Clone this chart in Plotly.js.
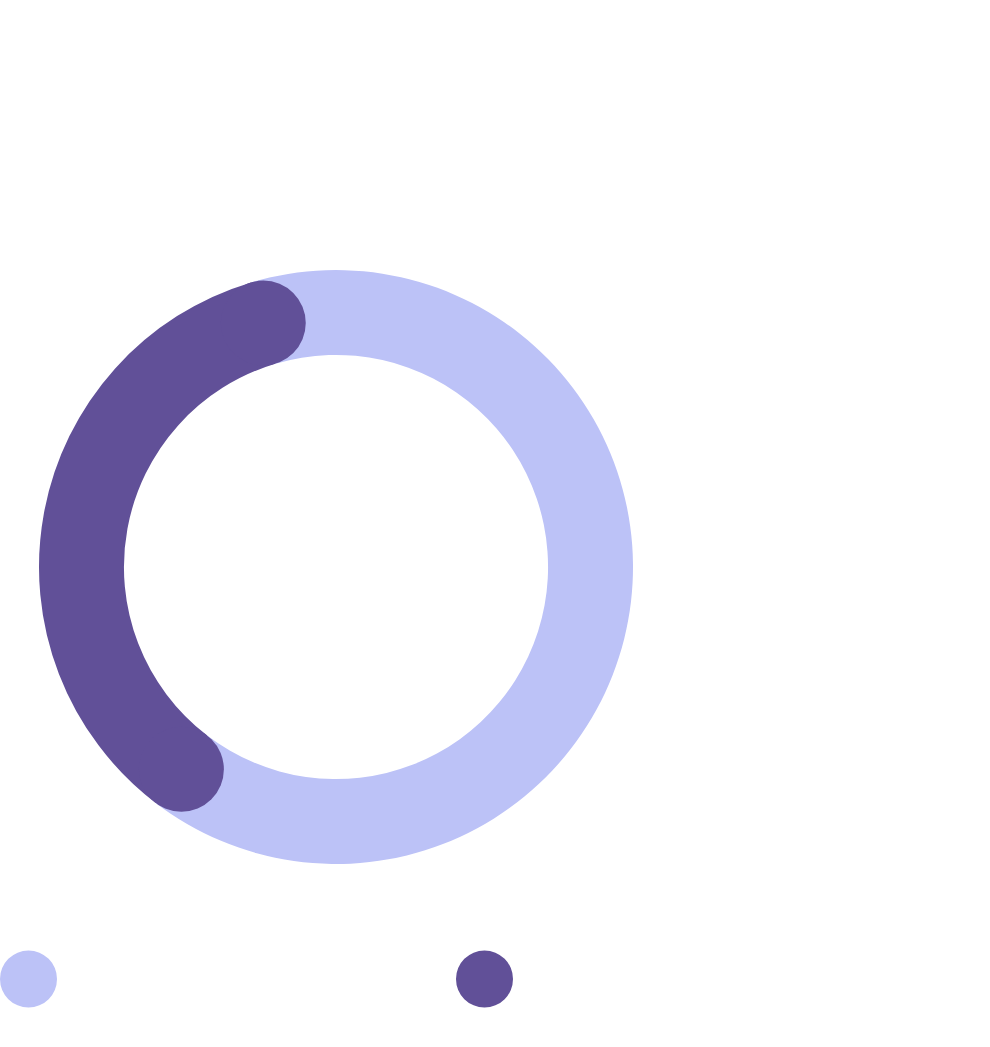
<!DOCTYPE html>
<html>
<head>
<meta charset="utf-8">
<script src="https://cdn.plot.ly/plotly-3.0.1.min.js"></script>
<style>html,body{margin:0;padding:0;background:#fff;}#chart{width:990px;height:1047px;}</style>
</head>
<body>
<div id="chart"></div>
<script>
// Data
const categories = ['Remaining', 'Completed'];
const values = [65, 35];
const colors = ['#BCC2F7', '#615098'];
const startRotation = -16.6; // degrees, clockwise from 12 o'clock

const W = 990, H = 1047;
const holeFrac = 0.714;

const trace = {
  type: 'pie',
  labels: categories,
  values: values,
  hole: holeFrac,
  sort: false,
  direction: 'clockwise',
  rotation: startRotation,
  textinfo: 'none',
  hoverinfo: 'label+value',
  marker: {colors: colors, line: {width: 0}},
  domain: {x: [39/W, 633/W], y: [(H-864)/H, (H-270)/H]},
  showlegend: false
};

const layout = {
  width: W, height: H,
  margin: {l: 0, r: 0, t: 0, b: 0},
  paper_bgcolor: '#fff',
  showlegend: false,
  shapes: []
};

const gd = document.getElementById('chart');
Plotly.newPlot(gd, [trace], layout, {displayModeBar: false, staticPlot: true}).then(function () {
  const cd0 = gd.calcdata[0][0];
  const fs = gd._fullLayout._size;
  const cx = fs.l + cd0.cx, cy = fs.t + cd0.cy, R = cd0.r;
  const rIn = R * holeFrac;
  const mid = (R + rIn) / 2, capR = (R - rIn) / 2;
  const total = values.reduce((a, b) => a + b, 0);
  // dark slice (index 1) boundaries, clockwise from top
  const a0 = (startRotation + 360 * values[0] / total) * Math.PI / 180;
  const a1 = (startRotation + 360) * Math.PI / 180;
  const shapes = [];
  [a0, a1].forEach(function (a) {
    const px = cx + mid * Math.sin(a), py = cy - mid * Math.cos(a);
    shapes.push({type: 'circle', xref: 'paper', yref: 'paper',
      x0: (px - capR) / W, x1: (px + capR) / W,
      y0: 1 - (py + capR) / H, y1: 1 - (py - capR) / H,
      fillcolor: colors[1], line: {width: 0}, layer: 'above'});
  });
  // legend dots
  const dotR = 28.5, dotY = 979;
  const dotX = [28.5, 484.5];
  dotX.forEach(function (x, i) {
    shapes.push({type: 'circle', xref: 'paper', yref: 'paper',
      x0: (x - dotR) / W, x1: (x + dotR) / W,
      y0: 1 - (dotY + dotR) / H, y1: 1 - (dotY - dotR) / H,
      fillcolor: colors[i], line: {width: 0}});
  });
  return Plotly.relayout(gd, {shapes: shapes});
});
</script>
</body>
</html>
